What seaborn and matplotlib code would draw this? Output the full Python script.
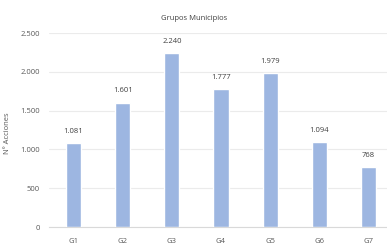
import matplotlib
matplotlib.use("Agg")
import matplotlib.pyplot as plt
import seaborn as sns
import pandas as pd

categories = ["G1", "G2", "G3", "G4", "G5", "G6", "G7"]
values = [1081, 1601, 2240, 1777, 1979, 1094, 768]
yticks = [0, 500, 1000, 1500, 2000, 2500]

def fmt(v):
    return f"{v:,}".replace(",", ".")

sns.set_theme(style="white")
plt.rcParams['font.family'] = ['Open Sans', 'DejaVu Sans']

df = pd.DataFrame({"cat": categories, "val": values})
fig = plt.figure(figsize=(3.87, 2.45), dpi=100)
ax = fig.add_axes([49/387, 18/245, 344/387, 194/245])
sns.barplot(data=df, x="cat", y="val", color="#9DB6E1", width=0.31, ax=ax,
            saturation=1, zorder=3)
ax.set_xlim(-0.5, 6.5)
ax.set_ylim(0, 2500)
ax.set_yticks(yticks)
ax.set_yticklabels([fmt(t) for t in yticks], fontsize=5.5, color="#595959")
ax.tick_params(axis='x', labelsize=5.5, colors="#595959", length=0, pad=8)
ax.tick_params(axis='y', length=0, pad=6.5)
ax.grid(axis='y', color="#EBEBEB", linewidth=0.8, zorder=0)
for s in ["top", "right", "left"]:
    ax.spines[s].set_visible(False)
ax.spines["bottom"].set_color("#D9D9D9")
ax.spines["bottom"].set_linewidth(0.8)
ax.set_xlabel("")
ax.set_ylabel("")
fig.text(8/387, 1 - 133/245, "Nº Acciones", rotation=90, ha="center", va="center",
         fontsize=5.5, color="#595959")
for i, v in enumerate(values):
    ax.text(i, v + 110, fmt(v), ha="center", va="bottom", fontsize=5.5, color="#404040")
fig.text(194/387, 1 - 18/245, "Grupos Municipios", ha="center", va="center",
         fontsize=5.5, color="#404040")
fig.savefig("out.png", dpi=100)
